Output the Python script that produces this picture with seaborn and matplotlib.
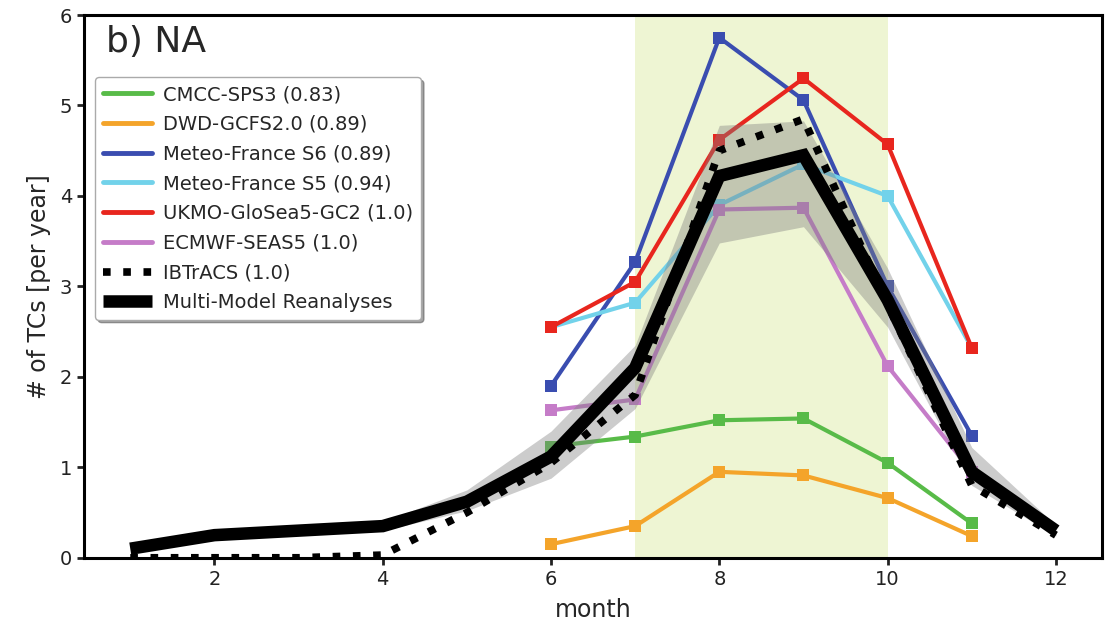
import matplotlib
matplotlib.use('Agg')
import matplotlib.pyplot as plt
from matplotlib.lines import Line2D
import numpy as np
import seaborn as sns

# months and per-model TC counts
all_months = [1, 2, 3, 4, 5, 6, 7, 8, 9, 10, 11, 12]
model_months = [6, 7, 8, 9, 10, 11]

cmcc = [1.23, 1.34, 1.52, 1.54, 1.05, 0.38]
dwd = [0.15, 0.35, 0.95, 0.91, 0.66, 0.24]
mf_s6 = [1.90, 3.27, 5.75, 5.06, 3.00, 1.35]
mf_s5 = [2.55, 2.82, 3.90, 4.35, 4.00, 2.32]
ukmo = [2.55, 3.05, 4.62, 5.30, 4.57, 2.32]
ecmwf = [1.63, 1.75, 3.85, 3.87, 2.12, 0.95]

ibtracs = [0.0, 0.0, 0.0, 0.03, 0.50, 1.05, 1.80, 4.50, 4.85, 2.80, 0.80, 0.25]
reanalyses = [0.10, 0.25, 0.30, 0.35, 0.62, 1.12, 2.10, 4.22, 4.45, 2.85, 0.95, 0.30]
rean_low = [0.05, 0.20, 0.25, 0.30, 0.52, 0.88, 1.65, 3.48, 3.66, 2.55, 0.80, 0.24]
rean_high = [0.15, 0.30, 0.35, 0.40, 0.75, 1.40, 2.35, 4.78, 4.83, 3.20, 1.22, 0.36]

season_start, season_end = 7, 10

models = {
    'CMCC-SPS3 (0.83)': (cmcc, '#58bb48'),
    'DWD-GCFS2.0 (0.89)': (dwd, '#f4a42a'),
    'Meteo-France S6 (0.89)': (mf_s6, '#3a4db0'),
    'Meteo-France S5 (0.94)': (mf_s5, '#72d2ea'),
    'UKMO-GloSea5-GC2 (1.0)': (ukmo, '#e8261e'),
    'ECMWF-SEAS5 (1.0)': (ecmwf, '#c57cc8'),
}

sns.set_style('ticks')
plt.rcParams['font.family'] = ['DejaVu Sans']

fig = plt.figure(figsize=(11.14, 6.26), dpi=100)
ax = fig.add_axes([0.0754, 0.109, 0.914, 0.867])

ax.axvspan(season_start, season_end, color='#eef5d3', zorder=0, lw=0)

handles = []
for label, (vals, c) in models.items():
    sns.lineplot(x=model_months, y=vals, ax=ax, color=c, lw=3, marker='s',
                 markersize=8, markeredgewidth=0, legend=False, zorder=3)
    handles.append(Line2D([], [], color=c, lw=3.5, label=label))

ax.fill_between(all_months, rean_low, rean_high, color='grey', alpha=0.4, lw=0, zorder=4)
sns.lineplot(x=all_months, y=ibtracs, ax=ax, color='black', lw=5.5, linestyle=':',
             legend=False, zorder=5)
sns.lineplot(x=all_months, y=reanalyses, ax=ax, color='black', lw=9,
             solid_capstyle='butt', solid_joinstyle='miter', legend=False, zorder=6)
handles.append(Line2D([], [], color='black', lw=5.5, ls=':', label='IBTrACS (1.0)'))
handles.append(Line2D([], [], color='black', lw=9, solid_capstyle='butt',
                      label='Multi-Model Reanalyses'))

ax.set_xlim(0.45, 12.55)
ax.set_ylim(0, 6)
ax.set_xticks([2, 4, 6, 8, 10, 12])
ax.set_yticks([0, 1, 2, 3, 4, 5, 6])
ax.tick_params(labelsize=14, width=2, length=5, colors='#222222')
for s in ax.spines.values():
    s.set_linewidth(2.2)
    s.set_color('black')
ax.set_xlabel('month', fontsize=17, labelpad=7)
ax.set_ylabel('# of TCs [per year]', fontsize=17, labelpad=6)

ax.text(0.022, 0.982, 'b) NA', transform=ax.transAxes, ha='left', va='top', fontsize=26)

ax.legend(handles=handles, loc='upper left', bbox_to_anchor=(0.011, 0.885), borderaxespad=0,
          fontsize=14, handlelength=2.5, handletextpad=0.6, labelspacing=0.55,
          frameon=True, fancybox=True, shadow=True, edgecolor='#aaaaaa', framealpha=1)

fig.savefig('out.png', dpi=100)
